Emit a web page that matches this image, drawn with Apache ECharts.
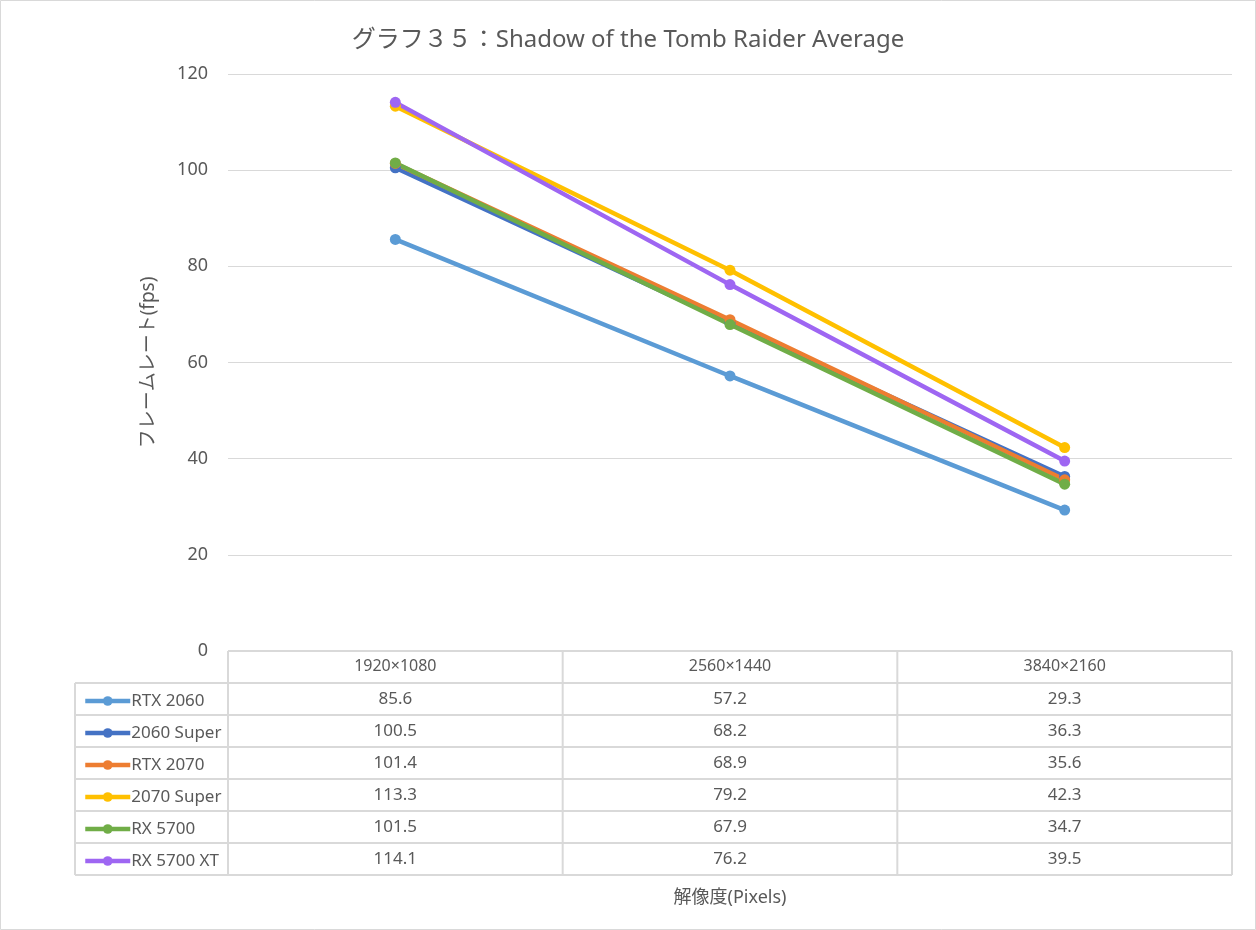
<!DOCTYPE html>
<html>
<head>
<meta charset="utf-8">
<script src="https://cdn.jsdelivr.net/npm/echarts@6/dist/echarts.min.js"></script>
<style>
  html, body {margin: 0; padding: 0; background: #fff;}
  #main {width: 1256px; height: 930px;}
</style>
</head>
<body>
<div id="main"></div>
<script>
// 解像度
const resolutions = ['1920×1080', '2560×1440', '3840×2160'];
const gpuNames = ['RTX 2060', '2060 Super', 'RTX 2070', '2070 Super', 'RX 5700', 'RX 5700 XT'];
const gpuColors = ['#5B9BD5', '#4472C4', '#ED7D31', '#FFC000', '#70AD47', '#9E66F2'];

const rtx2060 = [85.6, 57.2, 29.3];
const rtx2060Super = [100.5, 68.2, 36.3];
const rtx2070 = [101.4, 68.9, 35.6];
const rtx2070Super = [113.3, 79.2, 42.3];
const rx5700 = [101.5, 67.9, 34.7];
const rx5700xt = [114.1, 76.2, 39.5];
const fpsValues = [rtx2060, rtx2060Super, rtx2070, rtx2070Super, rx5700, rx5700xt];

const textColor = '#595959';
const lineColor = '#D9D9D9';
const font = '"Noto Sans", "Noto Sans CJK JP", sans-serif';

let chart = echarts.init(document.getElementById('main'));

const series = gpuNames.map((name, i) => ({
  name: name,
  type: 'line',
  data: fpsValues[i],
  symbol: 'circle',
  symbolSize: 11,
  color: gpuColors[i],
  lineStyle: {width: 4.5},
  animation: false
}));

chart.setOption({
  backgroundColor: '#fff',
  textStyle: {fontFamily: font},
  title: {
    text: 'グラフ３５：Shadow of the Tomb Raider Average',
    left: 'center',
    top: 23,
    textStyle: {color: textColor, fontSize: 24, fontWeight: 'normal', fontFamily: font}
  },
  legend: {
    orient: 'vertical',
    left: 78,
    top: 685,
    itemWidth: 45,
    itemHeight: 12,
    itemGap: 10,
    lineStyle: {width: 4.5},
    textStyle: {color: textColor, fontSize: 17, padding: [0, 0, 0, -4], lineHeight: 22},
    data: gpuNames
  },
  grid: {left: 228, right: 24, top: 74, bottom: 279},
  xAxis: {
    type: 'category',
    data: resolutions,
    axisLine: {show: false},
    axisTick: {show: false},
    axisLabel: {color: textColor, fontSize: 16, margin: 7},
    name: '解像度(Pixels)',
    nameLocation: 'middle',
    nameGap: 238,
    nameTextStyle: {color: textColor, fontSize: 18}
  },
  yAxis: {
    type: 'value',
    min: 0,
    max: 120,
    interval: 20,
    axisLine: {show: false},
    axisTick: {show: false},
    axisLabel: {color: textColor, fontSize: 18, margin: 20},
    splitLine: {lineStyle: {color: lineColor, width: 1}},
    name: 'フレームレート(fps)',
    nameLocation: 'middle',
    nameGap: 70,
    nameRotate: 90,
    nameTextStyle: {color: textColor, fontSize: 19}
  },
  series: series
});

// データテーブル (grid の座標から組み立て)
const drawTable = () => {
  const c0 = chart.convertToPixel({xAxisIndex: 0}, 0);
  const c1 = chart.convertToPixel({xAxisIndex: 0}, 1);
  const band = c1 - c0;
  const top = chart.convertToPixel({yAxisIndex: 0}, 0);
  const rowH = 32;
  const legendLeft = 75;
  const colEdges = resolutions.map((r, i) => c0 - band / 2 + band * i);
  colEdges.push(c0 - band / 2 + band * resolutions.length);
  const right = colEdges[colEdges.length - 1];
  const bottom = top + rowH * (gpuNames.length + 1);
  const els = [];
  const ls = {stroke: lineColor, lineWidth: 2};

  // 横線
  els.push({type: 'line', shape: {x1: colEdges[0], y1: top, x2: right, y2: top}, style: ls});
  for (let r = 1; r <= gpuNames.length + 1; r++) {
    const y = top + rowH * r;
    els.push({type: 'line', shape: {x1: legendLeft, y1: y, x2: right, y2: y}, style: ls});
  }
  // 縦線
  els.push({type: 'line', shape: {x1: legendLeft, y1: top + rowH, x2: legendLeft, y2: bottom}, style: ls});
  colEdges.forEach(x => {
    els.push({type: 'line', shape: {x1: x, y1: top, x2: x, y2: bottom}, style: ls});
  });
  // 値
  fpsValues.forEach((vals, r) => {
    vals.forEach((v, c) => {
      els.push({
        type: 'text',
        x: chart.convertToPixel({xAxisIndex: 0}, c),
        y: top + rowH * (r + 1) + rowH / 2,
        style: {
          text: v.toFixed(1), fill: textColor, font: '17px ' + font,
          align: 'center', verticalAlign: 'middle'
        }
      });
    });
  });
  // 外枠
  els.push({
    type: 'rect', shape: {x: 0.5, y: 0.5, width: 1255, height: 929},
    style: {fill: null, stroke: lineColor, lineWidth: 1}, silent: true
  });
  chart.setOption({graphic: {elements: els}});
};
drawTable();
</script>
</body>
</html>
